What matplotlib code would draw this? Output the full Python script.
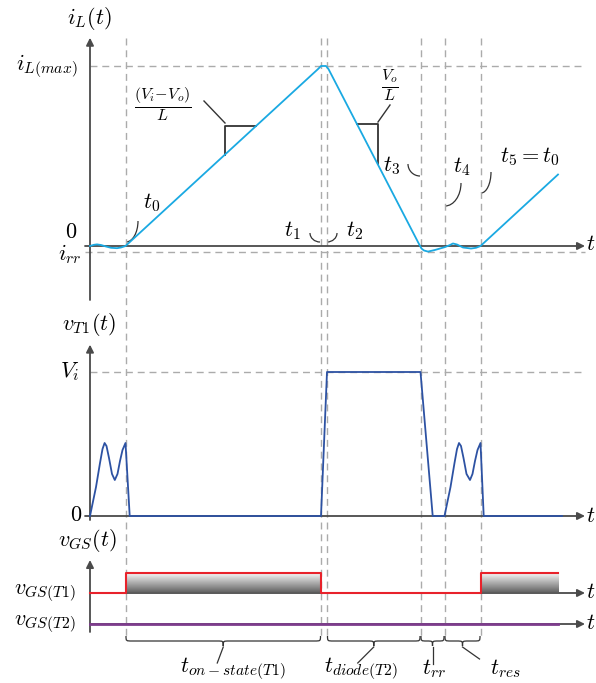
import numpy as np
import matplotlib.pyplot as plt
from matplotlib.path import Path
from matplotlib.patches import PathPatch
from matplotlib.colors import LinearSegmentedColormap

plt.rcParams['mathtext.fontset'] = 'cm'
plt.rcParams['font.family'] = 'DejaVu Serif'

# switching instants (time origin on the vertical axes)
t0, t1, t2, t3, t4, t5 = 35.5, 231, 237, 330.5, 354.5, 390.5
t_end = 468
instants = [t0, t1, t2, t3, t4, t5]

# inductor current, normalised to i_L(max) = 1
i_max = 1.0
i_rr = -0.033
iL_t = [0, 4, 7, 11, 16, 21, 27, 31, t0, 228, t1, 236, 238.5, 329, 331.5, 334,
        338, 345, 355, 360, 363, 367, 373, 381, 386, t5, t_end]
iL_v = [0, 0.0067, 0.0089, 0.0056, -0.0028, -0.010, -0.0122, -0.0083, 0, 0.983,
        1.0, 1.0, 0.983, 0.011, -0.014, -0.025, -0.031, -0.022, -0.006, 0.0056,
        0.014, 0.0083, -0.0083, -0.014, -0.010, 0, 0.397]

# transistor voltage, normalised to V_i = 1
V_i = 1.0
vT_t = [0, 6, 10, 12.5, 14.6, 16.5, 19, 22, 24.8, 27.5, 30, 32.5, t0, 39.7,
        t1, t2, t3, 342.7, t4,
        360.5, 364.5, 367, 369, 371, 373.5, 376.5, 380, 382.5, 385, 387.5, t5, 393.7, 472]
vT_v = [0, 0.201, 0.368, 0.465, 0.507, 0.486, 0.403, 0.292, 0.25, 0.292, 0.382, 0.458, 0.507, 0,
        0, 1.0, 1.0, 0, 0,
        0.201, 0.368, 0.465, 0.507, 0.486, 0.403, 0.292, 0.25, 0.292, 0.382, 0.458, 0.507, 0, 0]

# gate signals
gate1_t = [0, t0, t0, t1, t1, t5, t5, t_end]
gate1_v = [0, 0, 1, 1, 0, 0, 1, 1]
gate2_level = -1.55
on_intervals = [(t0, t1), (t5, t_end)]

c_axis = '#4a4a4a'
c_dash = '#ababab'
c_iL = '#1aa9e2'
c_vT = '#2d52a3'
c_g1 = '#e8222b'
c_g2 = '#7d3c8c'
fs = 16

fig = plt.figure(figsize=(5.96, 6.83), dpi=100)

# background layer in pixel-height units for guides and annotations
ax0 = fig.add_axes([0, 0, 1, 1])
ax0.set_xlim(-90, 506)
ax0.set_ylim(683, 0)
ax0.axis('off')

ax1 = fig.add_axes([0, 1 - 300 / 683, 1, 300 / 683])
ax1.set_ylim(-0.3, 246 / 180)
ax2 = fig.add_axes([0, 1 - 545 / 683, 1, 245 / 683])
ax2.set_ylim(-29 / 144, 1.5)
ax3 = fig.add_axes([0, 0, 1, 138 / 683])
for ax in (ax1, ax2, ax3):
    ax.set_xlim(-90, 506)
    ax.patch.set_alpha(0)
    ax.axis('off')
ax3.set_ylim(-4.5, 2.4)

# dashed guide lines for the switching instants
ax0.vlines(instants, 38, 640, colors=c_dash, lw=1, linestyles=(0, (5, 3.5)))


def axis_arrow(ax, start, end):
    ax.annotate('', xy=end, xytext=start,
                arrowprops=dict(arrowstyle='-|>', color=c_axis, lw=1.3,
                                mutation_scale=11, shrinkA=0, shrinkB=0),
                annotation_clip=False)


def curl(ax, p_start, p_end):
    # half-brace shaped leader: leaves the label vertically, meets the guide horizontally
    (x0, y0), (x3, y3) = p_start, p_end
    verts = [(x0, y0), (x0, y0 + 0.55 * (y3 - y0)), (x3 + 0.55 * (x0 - x3), y3), (x3, y3)]
    codes = [Path.MOVETO, Path.CURVE4, Path.CURVE4, Path.CURVE4]
    ax.add_patch(PathPatch(Path(verts, codes), fill=False, color='#333333', lw=0.9))


# --- i_L(t) ---
ax1.hlines([i_max], 0, 495, colors=c_dash, lw=1, linestyles=(0, (5, 3.5)))
ax1.hlines([i_rr], -5, 495, colors=c_dash, lw=1, linestyles=(0, (5, 3.5)))
axis_arrow(ax1, (0, -0.3), (0, 1.157))
axis_arrow(ax1, (-5, 0), (495, 0))
ax1.plot(iL_t, iL_v, color=c_iL, lw=1.3, zorder=5)

# slope triangles
ta, tb = 135, 166
ya, yb = np.interp([ta, tb], iL_t, iL_v)
ax1.plot([ta, ta, tb], [ya, yb, yb], color='#333333', lw=1.3)
tc, td = 267, 287.7
yc, yd = np.interp([tc, td], iL_t, iL_v)
ax1.plot([tc, td, td], [yc, yc, yd], color='#333333', lw=1.3)
ax0.plot([114, 135], [101, 123], color='#333333', lw=1)
ax0.plot([288, 300], [122, 105], color='#333333', lw=1)
ax0.text(73, 104, r'$\frac{(V_i\!-\!V_o)}{L}$', fontsize=16.5, ha='center', va='center')
ax0.text(300, 85, r'$\frac{V_o}{L}$', fontsize=16.5, ha='center', va='center')

ax0.text(-1, 18, r'$i_L(t)$', fontsize=fs, ha='center', va='center')
ax0.text(-12, 66, r'$i_{L(max)}$', fontsize=fs, ha='right', va='center')
ax0.text(-19, 232, r'$0$', fontsize=fs, ha='center', va='center')
ax0.text(-20, 254, r'$i_{rr}$', fontsize=fs, ha='center', va='center')
ax0.text(501, 244, r'$t$', fontsize=fs, ha='center', va='center')

# instant labels with curled leaders
labels = [(r'$t_0$', (62, 203), (48, 221), (36, 242)),
          (r'$t_1$', (202, 231), (220, 233), (230, 242)),
          (r'$t_2$', (265, 231), (247, 233), (237, 242)),
          (r'$t_3$', (302, 166), (318, 164), (330, 176)),
          (r'$t_4$', (372, 167), (371, 183), (355, 206)),
          (r'$t_5 = t_0$', (440, 157), (401, 172), (391, 193))]
for txt, pos, p_start, p_end in labels:
    ax0.text(pos[0], pos[1], txt, fontsize=fs, ha='center', va='center')
    curl(ax0, p_start, p_end)

# --- v_T1(t) ---
ax2.hlines([V_i], 0, 492, colors=c_dash, lw=1, linestyles=(0, (5, 3.5)))
axis_arrow(ax2, (0, -0.028), (0, 1.19))
axis_arrow(ax2, (-5, 0), (495, 0))
ax2.plot(vT_t, vT_v, color=c_vT, lw=1.3, zorder=5)
ax0.text(-1, 325, r'$v_{T1}(t)$', fontsize=fs, ha='center', va='center')
ax0.text(-20, 372, r'$V_i$', fontsize=fs, ha='center', va='center')
ax0.text(-14, 515, r'$0$', fontsize=fs, ha='center', va='center')
ax0.text(501, 516, r'$t$', fontsize=fs, ha='center', va='center')

# --- v_GS(t) ---
shade = LinearSegmentedColormap.from_list('shade', ['#f6f6f6', '#666666'])
grad = np.linspace(0, 1, 64).reshape(-1, 1)
for a, b in on_intervals:
    ax3.imshow(grad, extent=(a, b, 0.05, 1), cmap=shade, aspect='auto', zorder=1)
ax3.set_xlim(-90, 506)
ax3.set_ylim(-4.5, 2.4)
axis_arrow(ax3, (0, -1.95), (0, 1.65))
axis_arrow(ax3, (0, 0), (495, 0))
axis_arrow(ax3, (0, gate2_level), (495, gate2_level))
ax3.plot(gate1_t, gate1_v, color=c_g1, lw=1.5, zorder=5)
ax3.plot([0, t_end], [gate2_level, gate2_level], color=c_g2, lw=2, zorder=5)
ax0.text(-2, 540, r'$v_{GS}(t)$', fontsize=fs, ha='center', va='center')
ax0.text(-45, 593, r'$v_{GS(T1)}$', fontsize=fs, ha='center', va='center')
ax0.text(-45, 624, r'$v_{GS(T2)}$', fontsize=fs, ha='center', va='center')
ax0.text(501, 592, r'$t$', fontsize=fs, ha='center', va='center')
ax0.text(501, 623, r'$t$', fontsize=fs, ha='center', va='center')


def brace(ax, a, b, y0=636, y1=641, y2=646):
    m = (a + b) / 2
    r = min(6, (b - a) / 4)
    verts = [(a, y0), (a, y1), (a, y1), (a + r, y1),
             (m - r, y1),
             (m, y1), (m, y1), (m, y2),
             (m, y1), (m, y1), (m + r, y1),
             (b - r, y1),
             (b, y1), (b, y1), (b, y0)]
    codes = [Path.MOVETO] + [Path.CURVE4] * 3 + [Path.LINETO] + [Path.CURVE4] * 6 \
        + [Path.LINETO] + [Path.CURVE4] * 3
    ax.add_patch(PathPatch(Path(verts, codes), fill=False, color='#333333', lw=0.9))
    return m


spans = [(t0 + 0.5, t1 - 0.5), (t2 + 0.5, t3 - 0.5), (t3 + 0.5, t4 - 0.5), (t4 + 0.5, t5 - 0.5)]
span_labels = [r'$t_{on-state(T1)}$', r'$t_{diode(T2)}$', r'$t_{rr}$', r'$t_{res}$']
leader_ends = [(-6, 16), (-16, 16), (0, 17), (17, 12)]
label_dx = [10, -13, 1, 43]
for (a, b), txt, (dx, dy), lx in zip(spans, span_labels, leader_ends, label_dx):
    m = brace(ax0, a, b)
    ax0.plot([m, m + dx], [647, 647 + dy], color='#333333', lw=0.9)
    ax0.text(m + lx, 669, txt, fontsize=fs, ha='center', va='center')

fig.savefig('out.png', dpi=100)
